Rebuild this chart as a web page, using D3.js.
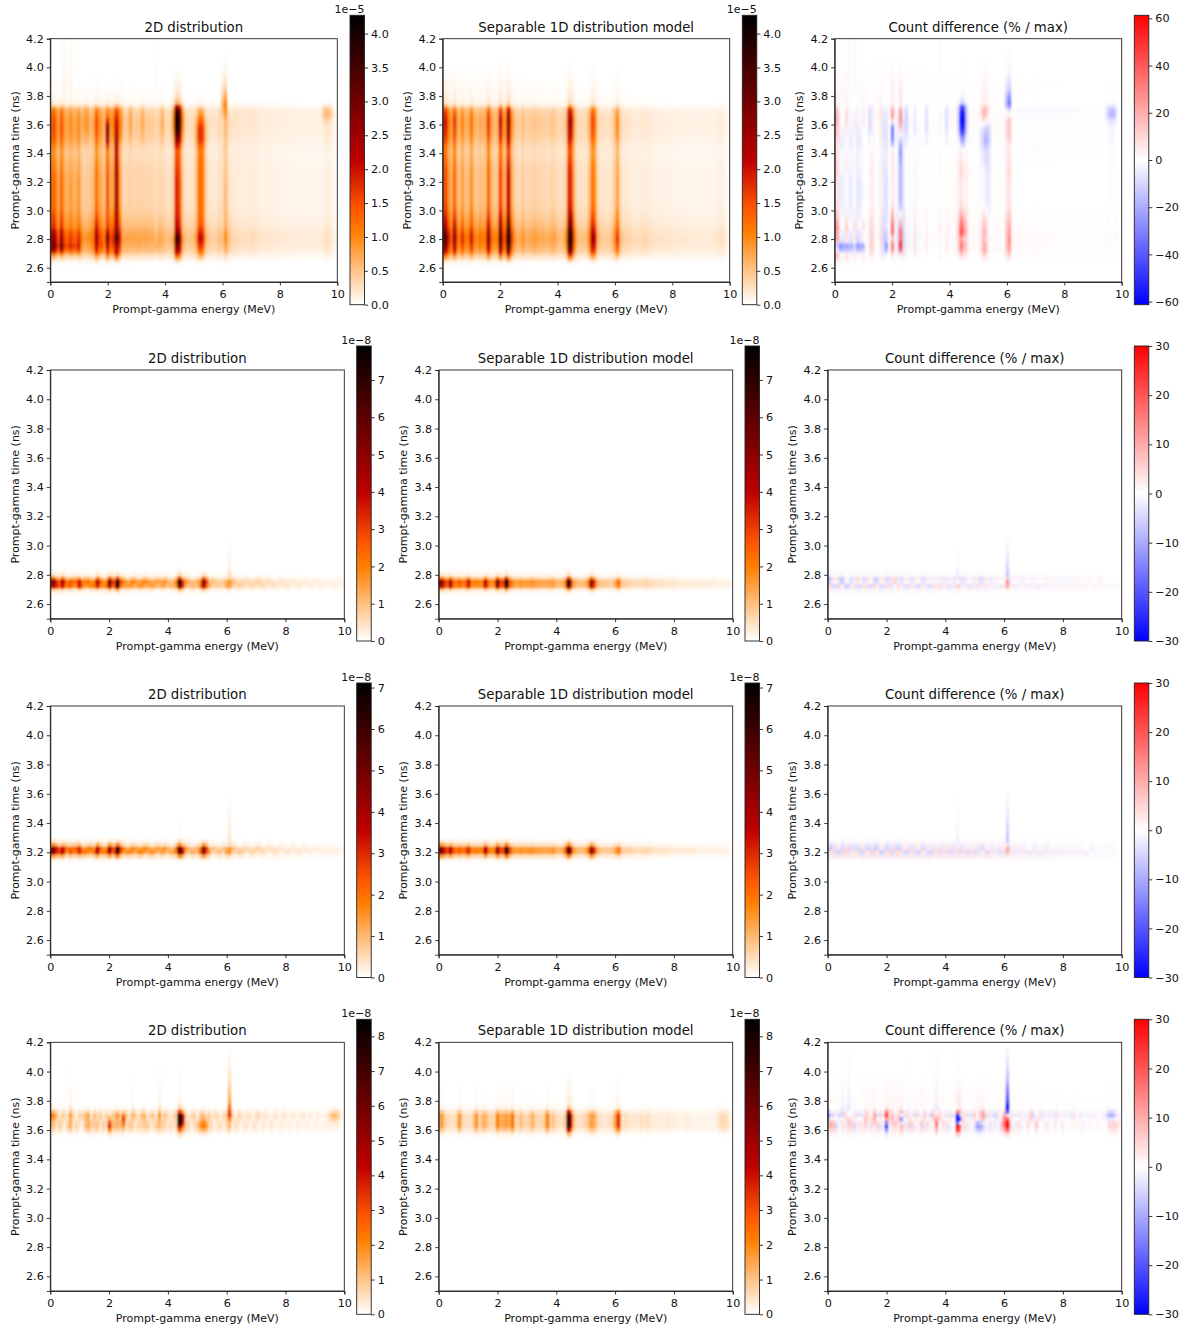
<!DOCTYPE html>
<html>
<head>
<meta charset="utf-8">
<script src="https://cdn.jsdelivr.net/npm/d3@7"></script>
<style>
  html, body { margin: 0; padding: 0; background: #fff; }
  text { font-family: "DejaVu Sans", sans-serif; fill: #111; }
  .axis text { font-size: 11.2px; }
  .axis path, .axis line { stroke: #222; stroke-width: 0.9; }
  .label { font-size: 11px; text-anchor: middle; }
  .title { font-size: 13.3px; text-anchor: middle; }
  .offset { font-size: 11px; text-anchor: end; }
</style>
</head>
<body>
<svg id="chart" width="1190" height="1331"></svg>
<script>
// tick labels
var energyTicks = [0, 2, 4, 6, 8, 10];
var timeTicks = [2.6, 2.8, 3.0, 3.2, 3.4, 3.6, 3.8, 4.0, 4.2];
var barTicks1 = [0, 0.5, 1, 1.5, 2, 2.5, 3, 3.5, 4];
var barTicks2 = [0, 1, 2, 3, 4, 5, 6, 7];
var barTicks3 = [0, 1, 2, 3, 4, 5, 6, 7];
var barTicks4 = [0, 1, 2, 3, 4, 5, 6, 7, 8];
var diffTicks1 = [-60, -40, -20, 0, 20, 40, 60];
var diffTicks = [-30, -20, -10, 0, 10, 20, 30];

// energy bins sit at 0.0, 0.1 ... 10.0 MeV, time bins at 2.500, 2.525 ... 4.200 ns
var energyBins = d3.range(101).map(function(k) { return k / 10; });
var timeBins = d3.range(69).map(function(j) { return 2.5 + j * 0.025; });

// row 1, all 1e-6
var model1 = [2.6,3.4,2.0,1.3,2.8,1.4,1.1,1.8,1.1,1.2, 2.0,1.1,1.0,1.3,1.1,1.2,2.8,1.3,1.0,1.1, 3.5,1.5,1.6,4.6,1.7,.9,.7,.7,1.0,.7, .72,.76,.85,.76,.72,.72,.68,.68,.76,.8, .6,.56,.6,1.1,4.6,3.4,1.2,.56,.52,.52, .56,1.1,2.7,2.2,.7,.48,.44,.44,.44,.56, .9,1.7,.6,.4,.4,.36,.32,.3,.3,.3, .34,.34,.3,.26,.24,.24,.24,.22,.22,.22, .21,.2,.2,.19,.19,.19,.18,.18,.18,.18, .18,.18,.18,.18,.18,.2,.24,.26,.22,.12,.03];
var dist1 = [2.5,3.3,2.5,1.7,3.1,1.8,1.5,2.0,1.6,1.6, 2.3,1.1,.95,1.05,1.0,1.2,2.6,1.6,1.6,1.1, 3.1,1.5,1.8,3.7,2.0,.95,.75,.75,.9,.75, .75,.78,.85,.78,.74,.74,.7,.7,.76,.8, .56,.52,.56,1.0,4.5,3.6,1.1,.52,.48,.48, .52,1.0,2.3,2.1,.8,.44,.4,.4,.4,.56, .9,1.8,.55,.38,.38,.36,.32,.3,.3,.3, .34,.34,.3,.26,.24,.24,.24,.22,.22,.22, .21,.2,.2,.19,.19,.19,.18,.18,.18,.18, .18,.18,.18,.18,.18,.38,.6,.6,.38,.12,.03];
var group1 = [1,1,1,1,1,10,1,10,1,1, 1,0,7,7,0,0,0,0,1,0, 2,0,0,3,0,7,0,0,7,0, 0,0,7,0,0,0,0,10,0,7, 0,0,0,4,4,4,4,0,0,0, 0,5,5,5,5,0,0,0,0,0, 6,6,0,0,8,8,8,8,8,8, 8,8,8,8,8,8,8,8,8,8, 8,8,8,8,8,8,8,8,8,8, 8,8,8,8,8,9,9,9,9,8,8];

var timeModel1 = [0,0,0,0,0,.02,.1,.3,.55,.75,.87,.97,1,.98,.9,.8,.72,.66,.6,.56,.52,.49,.47,.46,.46,.46,.46,.46,.46,.46,.46,.45,.44,.42,.4,.38,.36,.37,.4,.45,.5,.54,.56,.58,.6,.6,.58,.54,.46,.22,.08,.06,.05,.04,.035,.03,.025,.02,.015,.012,.01,.006,.004,0,0,0,0,0,0];
var timeCont = [0,0,0,0,0,.02,.1,.3,.55,.75,.87,.97,1,.98,.9,.8,.72,.66,.6,.56,.52,.49,.47,.46,.46,.46,.46,.46,.46,.46,.46,.45,.44,.42,.4,.38,.36,.37,.4,.45,.5,.54,.56,.58,.6,.59,.56,.52,.44,.2,.06,.04,.03,.025,.02,.015,.012,.01,.008,.006,.004,.002,0,0,0,0,0,0,0];
var timeLow = [0,0,0,0,0,.01,.06,.2,.45,.8,1,.9,.85,.82,.75,.6,.55,.52,.5,.47,.44,.43,.42,.42,.42,.42,.42,.42,.42,.41,.4,.38,.36,.35,.34,.32,.3,.32,.36,.4,.44,.46,.47,.48,.48,.47,.45,.42,.36,.17,.05,.03,.02,.015,.012,.01,.008,.006,.004,.002,0,0,0,0,0,0,0,0,0];
var time20 = [0,0,0,0,0,.02,.1,.3,.5,.6,.7,.85,1,.9,.7,.58,.52,.5,.48,.47,.47,.47,.47,.47,.47,.47,.47,.47,.47,.47,.46,.45,.44,.42,.4,.38,.36,.4,.55,.72,.82,.88,.92,.93,.82,.6,.45,.38,.33,.16,.05,.03,.02,.01,0,0,0,0,0,0,0,0,0,0,0,0,0,0,0];
var time23 = [0,0,0,0,0,.02,.12,.35,.6,.65,.7,.85,1,.95,.85,.78,.74,.72,.7,.7,.7,.7,.7,.7,.7,.7,.7,.7,.7,.7,.7,.69,.68,.67,.66,.65,.64,.64,.66,.68,.7,.68,.65,.62,.6,.56,.52,.48,.42,.2,.05,.03,.02,.01,0,0,0,0,0,0,0,0,0,0,0,0,0,0,0];
var time44 = [0,0,0,0,0,.02,.09,.25,.45,.58,.66,.78,.85,.76,.62,.54,.5,.47,.45,.44,.43,.43,.42,.42,.42,.42,.42,.42,.42,.41,.4,.39,.38,.37,.36,.35,.33,.36,.45,.55,.65,.75,.85,.92,.96,.98,.96,.9,.78,.48,.15,.1,.07,.05,.04,.03,.02,.015,.01,.008,.005,0,0,0,0,0,0,0,0];
var time52 = [0,0,0,0,0,.02,.08,.25,.45,.6,.75,.85,.95,.9,.8,.72,.65,.6,.58,.56,.55,.55,.55,.55,.55,.55,.55,.55,.55,.55,.55,.55,.55,.54,.53,.52,.5,.52,.6,.7,.76,.78,.78,.76,.7,.6,.5,.4,.3,.12,.03,.02,.01,0,0,0,0,0,0,0,0,0,0,0,0,0,0,0,0];
var time61 = [0,0,0,0,0,.02,.06,.15,.28,.38,.45,.52,.55,.55,.5,.42,.38,.36,.35,.34,.34,.33,.33,.33,.33,.33,.33,.32,.32,.31,.3,.29,.28,.27,.27,.26,.26,.27,.28,.29,.3,.31,.32,.33,.34,.36,.4,.5,.58,.62,.6,.52,.42,.32,.24,.18,.13,.1,.07,.05,.04,.03,.02,.015,.01,.006,.004,0,0];
var timeLate = [0,0,0,0,0,.02,.08,.25,.45,.62,.72,.82,.88,.85,.78,.7,.62,.56,.52,.48,.46,.45,.44,.43,.43,.43,.43,.43,.43,.43,.42,.41,.4,.38,.37,.36,.35,.38,.46,.55,.62,.7,.78,.84,.86,.86,.84,.78,.7,.36,.1,.06,.05,.04,.03,.02,.015,.01,.005,0,0,0,0,0,0,0,0,0,0];
var timeHigh = [0,0,0,0,0,.02,.08,.25,.48,.66,.78,.88,.9,.88,.82,.74,.66,.6,.56,.52,.48,.47,.46,.46,.46,.46,.46,.46,.46,.46,.46,.46,.45,.44,.43,.42,.41,.42,.45,.5,.54,.57,.6,.62,.64,.66,.66,.64,.58,.28,.09,.05,.03,.02,.01,0,0,0,0,0,0,0,0,0,0,0,0,0,0];
var time97 = [0,0,0,0,0,.01,.04,.12,.24,.33,.4,.44,.45,.44,.41,.36,.31,.27,.25,.24,.23,.22,.22,.22,.22,.22,.22,.22,.22,.22,.22,.21,.21,.2,.2,.19,.18,.2,.23,.27,.3,.32,.34,.37,.42,.58,.82,1,.85,.42,.08,.02,.01,0,0,0,0,0,0,0,0,0,0,0,0,0,0,0,0];
var timeTail = [0,0,0,0,0,.01,.06,.2,.45,.75,.95,.88,.85,.82,.75,.6,.55,.52,.5,.47,.44,.43,.42,.42,.42,.42,.42,.42,.42,.41,.4,.38,.36,.35,.34,.32,.3,.32,.36,.4,.44,.46,.47,.48,.48,.48,.47,.45,.38,.2,.07,.06,.055,.05,.05,.05,.045,.04,.04,.04,.035,.035,.03,.03,.03,.03,.025,.025,.02];

// row 2, all 1e-8
var model2 = [4.2,5.8,3.6,2.8,5.0,2.6,2.2,2.8,2.2,2.5, 4.2,2.2,2.0,2.2,2.0,2.2,4.6,2.4,1.8,2.2, 6.2,3.2,3.2,8.4,3.0,2.0,1.6,1.6,2.0,1.6, 1.7,1.7,1.9,1.6,1.6,1.5,1.5,1.5,1.6,1.7, 1.2,1.2,1.2,2.2,8.0,3.8,1.6,1.2,1.1,1.1, 1.2,2.2,6.0,3.2,1.2,1.0,.9,.9,.8,.9, 1.4,2.6,1.1,.8,.8,.7,.6,.6,.6,.6, .7,.7,.6,.5,.5,.5,.5,.4,.4,.4, .4,.4,.3,.3,.3,.3,.3,.3,.3,.3, .3,.3,.3,.3,.2,.2,.2,.2,.2,.2,.1];
var upper2 = [5.0,6.9,3.0,2.3,6.0,3.6,1.8,2.5,2.9,3.0, 3.4,1.7,2.7,2.9,1.4,1.7,5.6,3.2,1.3,1.6, 7.0,4.0,2.5,7.6,3.6,2.7,1.1,1.1,2.6,2.2, 1.2,1.3,2.5,2.3,1.1,1.0,2.0,1.9,1.1,2.2, 1.7,.7,.8,2.8,8.6,3.1,2.2,1.7,.7,.7, 1.7,1.7,6.8,3.8,.8,1.4,1.3,.6,.5,1.2, 1.0,1.8,1.5,1.1,.5,.4,.9,.9,.4,.3, 1.0,.9,.4,.3,.8,.7,.3,.2,.6,.6, .2,.2,.5,.5,.1,.1,.5,.4,.1,.1, .4,.4,.1,.1,.3,.3,.1,.1,.3,.3,.1];
var lower2 = [4.0,4.9,4.3,3.4,4.1,2.1,2.9,3.4,1.7,1.9, 4.9,2.8,1.5,1.6,2.6,2.8,3.8,1.9,2.4,2.8, 5.5,2.5,3.8,8.8,2.4,1.5,2.1,2.2,1.5,1.1, 2.2,2.3,1.4,1.1,2.1,2.1,1.0,1.0,2.1,1.2, .8,1.7,1.6,1.7,7.2,4.4,1.2,.8,1.6,1.5, .8,2.7,5.4,2.7,1.6,.7,.5,1.2,1.1,.5, 1.8,1.9,.8,.5,1.1,1.0,.4,.3,.8,.9, .4,.4,.9,.7,.2,.3,.7,.6,.2,.2, .6,.6,.1,.1,.5,.5,.1,.1,.5,.4, .1,.1,.4,.4,.1,.1,.3,.3,.1,.1,.1];
var timeModel2 = [0,0,0,0,0,0,0,.03,.2,.85,.95,.42,.08,.02,0,0,0,0,0,0,0,0,0,0,0,0,0,0,0,0,0,0,0,0,0,0,0,0,0,0,0,0,0,0,0,0,0,0,0,0,0,0,0,0,0,0,0,0,0,0,0,0,0,0,0,0,0,0,0];
var timeUpper2 = [0,0,0,0,0,0,0,0,.03,.25,.55,.36,.07,.02,0,0,0,0,0,0,0,0,0,0,0,0,0,0,0,0,0,0,0,0,0,0,0,0,0,0,0,0,0,0,0,0,0,0,0,0,0,0,0,0,0,0,0,0,0,0,0,0,0,0,0,0,0,0,0];
var timeLower2 = [0,0,0,0,0,0,0,.03,.17,.6,.4,.06,.01,0,0,0,0,0,0,0,0,0,0,0,0,0,0,0,0,0,0,0,0,0,0,0,0,0,0,0,0,0,0,0,0,0,0,0,0,0,0,0,0,0,0,0,0,0,0,0,0,0,0,0,0,0,0,0,0];
var tailTime2 = [0,0,0,0,0,0,0,0,0,0,0,0,.3,.22,.18,.15,.12,.1,.08,.06,.05,.03,.02,0,0,0,0,0,0,0,0,0,0,0,0,0,0,0,0,0,0,0,0,0,0,0,0,0,0,0,0,0,0,0,0,0,0,0,0,0,0,0,0,0,0,0,0,0,0];
var tailBins2 = [44, 61];
var tailAmps2 = [0.3, 1.5];

// row 3, all 1e-8
var model3 = [4.2,5.4,3.6,2.8,4.2,2.6,2.0,2.6,2.0,2.4, 3.4,1.9,1.8,2.0,1.8,2.0,4.6,2.2,1.7,2.0, 5.0,2.8,2.8,7.2,3.0,1.8,1.5,1.5,1.8,1.5, 1.6,1.6,1.7,1.5,1.5,1.4,1.4,1.4,1.5,1.6, 1.2,1.1,1.2,2.4,6.6,3.8,1.6,1.1,1.0,1.0, 1.2,2.2,5.4,3.0,1.2,.9,.8,.8,.8,.9, 1.3,2.2,1.0,.7,.7,.7,.6,.5,.5,.5, .6,.6,.5,.4,.4,.4,.4,.4,.4,.3, .3,.3,.3,.3,.3,.3,.3,.3,.2,.2, .2,.2,.2,.2,.2,.2,.2,.2,.2,.1,.1];
var upper3 = [3.5,6.3,4.2,2.2,3.7,3.4,2.5,1.9,2.6,3.0, 4.0,1.3,1.3,2.6,2.5,1.4,5.4,2.9,1.2,1.5, 5.8,3.4,2.2,7.8,3.8,2.3,1.0,1.0,2.4,2.0, 1.1,1.2,2.3,2.1,1.0,.9,1.9,1.8,1.0,2.1, 1.6,.6,.7,2.9,7.0,3.2,2.1,1.5,.6,.6, 1.6,1.7,5.9,3.5,.8,1.3,1.2,.5,.4,1.3, .9,1.5,1.4,1.0,.4,.4,.9,.8,.3,.3, .9,.9,.3,.2,.7,.7,.3,.2,.6,.5, .1,.1,.5,.5,.1,.1,.5,.4,.1,.1, .4,.3,.1,.1,.3,.3,.1,.1,.3,.1,.1];
var lower3 = [4.8,4.8,3.0,3.4,4.8,1.9,1.4,3.2,1.5,1.9, 2.9,2.5,2.4,1.5,1.3,2.6,3.9,1.7,2.3,2.6, 4.4,2.2,3.4,6.6,2.4,1.3,2.0,2.1,1.3,1.0, 2.1,2.2,1.2,1.0,2.0,2.0,.9,.9,2.0,1.1, .7,1.6,1.7,1.9,6.2,4.4,1.1,.6,1.5,1.4, .7,2.7,5.0,2.6,1.7,.4,.4,1.1,1.2,.4, 1.7,1.8,.6,.4,1.0,1.0,.3,.2,.8,.8, .3,.3,.8,.6,.1,.1,.6,.6,.1,.1, .5,.5,.1,.1,.5,.5,.1,.1,.4,.3, .1,.1,.3,.3,.1,.1,.3,.3,.1,.1,.1];
var timeModel3 = [0,0,0,0,0,0,0,0,0,0,0,0,0,0,0,0,0,0,0,0,0,0,0,0,0,0,.06,.3,.92,.92,.28,.06,0,0,0,0,0,0,0,0,0,0,0,0,0,0,0,0,0,0,0,0,0,0,0,0,0,0,0,0,0,0,0,0,0,0,0,0,0];
var timeUpper3 = [0,0,0,0,0,0,0,0,0,0,0,0,0,0,0,0,0,0,0,0,0,0,0,0,0,0,0,.04,.27,.62,.24,.06,0,0,0,0,0,0,0,0,0,0,0,0,0,0,0,0,0,0,0,0,0,0,0,0,0,0,0,0,0,0,0,0,0,0,0,0,0];
var timeLower3 = [0,0,0,0,0,0,0,0,0,0,0,0,0,0,0,0,0,0,0,0,0,0,0,0,0,0,.06,.26,.65,.3,.04,0,0,0,0,0,0,0,0,0,0,0,0,0,0,0,0,0,0,0,0,0,0,0,0,0,0,0,0,0,0,0,0,0,0,0,0,0,0];
var tailTime3 = [0,0,0,0,0,0,0,0,0,0,0,0,0,0,0,0,0,0,0,0,0,0,0,0,0,0,0,0,0,0,0,.25,.22,.2,.18,.16,.14,.12,.1,.08,.07,.05,.04,.03,.02,0,0,0,0,0,0,0,0,0,0,0,0,0,0,0,0,0,0,0,0,0,0,0,0];
var tailBins3 = [44, 61];
var tailAmps3 = [0.3, 1.5];

// row 4, all 1e-8
var model4 = [1.2,1.9,1.0,.6,.6,.5,.7,2.0,.7,.5, .6,.5,1.1,2.0,.7,1.3,1.4,.8,.7,.7, 2.4,1.4,1.6,1.8,1.4,2.6,.8,.7,1.4,.7, .7,.9,1.4,.8,.7,.7,.9,2.4,.8,1.1, .6,.5,.5,1.0,8.5,4.5,1.2,.5,.5,.6, .7,1.1,1.8,1.5,.7,.5,.4,.4,.5,.7, 1.8,3.8,.8,.5,.6,.4,.4,.4,.4,.6, .4,.6,.4,.3,.3,.3,.3,.3,.4,.3, .3,.3,.2,.2,.3,.3,.2,.2,.2,.2, .2,.2,.2,.2,.2,.4,.6,.7,.6,.3,.1];
var upper4 = [2.4,2.2,1.2,.4,.9,.7,.3,1.6,.7,.2, .8,.7,1.2,1.5,.3,1.2,.5,1.0,.3,.9, .4,.9,1.0,1.8,.9,1.4,1.0,.3,1.2,.9, .3,1.1,1.4,.3,.8,1.0,.3,1.8,.3,1.0, .8,.2,.7,1.1,5.5,3.0,.9,.2,.7,.8, .2,.9,1.1,.5,.9,.2,.6,.7,.2,.7, .9,1.8,.9,.2,.7,.6,.2,.5,.5,.1, .7,.6,.1,.5,.4,.1,.4,.5,.1,.4, .4,.1,.3,.4,.1,.3,.4,.1,.3,.3, .1,.3,.2,.1,.3,.7,1.2,1.3,.9,.2,.0];
var lower4 = [.9,1.1,.4,.9,.5,.2,.8,1.5,.3,.8, .4,.2,1.1,1.5,.8,.9,1.1,.4,.9,.5, 3.8,1.2,1.2,1.3,1.1,1.6,.5,.9,.9,.3, .8,.7,.9,1.0,.4,.5,.9,1.2,.8,.8, .3,.7,.4,.9,5.0,2.6,.9,.7,.3,.6, .9,1.8,2.4,1.8,.6,.7,.2,.5,.6,.2, .6,1.3,.2,.6,.4,.1,.5,.4,.1,.5, .4,.1,.4,.3,.1,.4,.3,.1,.3,.3, .1,.3,.2,.1,.3,.2,.1,.3,.2,.1, .2,.2,.1,.2,.2,.3,.2,.3,.2,.1,.0];
var timeModel4 = [0,0,0,0,0,0,0,0,0,0,0,0,0,0,0,0,0,0,0,0,0,0,0,0,0,0,0,0,0,0,0,0,0,0,0,0,0,0,0,0,0,0,.04,.15,.55,.92,.95,.93,.95,.55,.12,.06,.04,.035,.03,.025,.02,.015,.01,.008,.005,0,0,0,0,0,0,0,0];
var timeUpper4 = [0,0,0,0,0,0,0,0,0,0,0,0,0,0,0,0,0,0,0,0,0,0,0,0,0,0,0,0,0,0,0,0,0,0,0,0,0,0,0,0,0,0,0,0,0,0,.1,.6,1,.55,.1,.03,0,0,0,0,0,0,0,0,0,0,0,0,0,0,0,0,0];
var timeLower4 = [0,0,0,0,0,0,0,0,0,0,0,0,0,0,0,0,0,0,0,0,0,0,0,0,0,0,0,0,0,0,0,0,0,0,0,0,0,0,0,0,0,0,.04,.15,.6,1,.85,.3,.05,0,0,0,0,0,0,0,0,0,0,0,0,0,0,0,0,0,0,0,0];
var midTime4 = [0,0,0,0,0,0,0,0,0,0,0,0,0,0,0,0,0,0,0,0,0,0,0,0,0,0,0,0,0,0,0,0,0,0,0,0,0,0,0,0,0,0,0,0,0,.1,.6,1,.5,.05,0,0,0,0,0,0,0,0,0,0,0,0,0,0,0,0,0,0,0];
var midBins4 = [25, 44, 45];
var midAmps4 = [2.0, 7.5, 3.0];
var tailTime4 = [0,0,0,0,0,0,0,0,0,0,0,0,0,0,0,0,0,0,0,0,0,0,0,0,0,0,0,0,0,0,0,0,0,0,0,0,0,0,0,0,0,0,0,0,0,0,0,.2,.45,.6,.65,.5,.4,.35,.3,.28,.22,.18,.14,.12,.1,.08,.06,.05,.04,.03,.02,.01,0];
var tailBins4 = [5, 7, 28, 37, 44, 61];
var tailAmps4 = [0.25, 0.5, 0.25, 0.5, 0.5, 4.0];

var rowMax = [4.27, 7.91, 7.11, 8.49];
var diffMax = [61.3, 30, 30, 30];
var diffGain = [1.6, 1.5, 1.5, 1.3];
var exponents = ["1e\u22125", "1e\u22128", "1e\u22128", "1e\u22128"];
var panelTitles = ["2D distribution", "Separable 1D distribution model", "Count difference (% / max)"];

function sparse(bins, amps) {
  var out = energyBins.map(function() { return 0; });
  bins.forEach(function(b, i) { out[b] = amps[i]; });
  return out;
}

// row 1 is grouped: each energy bin follows one of the time shapes
var shapes1 = [timeCont, timeLow, time20, time23, time44, time52, time61, timeLate, timeHigh, time97, timeTail];
var layers1 = shapes1.map(function(shape, g) {
  return {amps: dist1.map(function(v, k) { return group1[k] == g ? v : 0; }), time: shape};
});

var rows = [
  {model: {amps: model1, time: timeModel1}, layers: layers1, bars: barTicks1, diffBars: diffTicks1, blur: "1.2 1.5"},
  {model: {amps: model2, time: timeModel2}, layers: [
    {amps: upper2, time: timeUpper2}, {amps: lower2, time: timeLower2},
    {amps: sparse(tailBins2, tailAmps2), time: tailTime2}], bars: barTicks2, diffBars: diffTicks, blur: "1 1.1"},
  {model: {amps: model3, time: timeModel3}, layers: [
    {amps: upper3, time: timeUpper3}, {amps: lower3, time: timeLower3},
    {amps: sparse(tailBins3, tailAmps3), time: tailTime3}], bars: barTicks3, diffBars: diffTicks, blur: "1 1.1"},
  {model: {amps: model4, time: timeModel4}, layers: [
    {amps: upper4, time: timeUpper4}, {amps: lower4, time: timeLower4},
    {amps: sparse(midBins4, midAmps4), time: midTime4},
    {amps: sparse(tailBins4, tailAmps4), time: tailTime4}], bars: barTicks4, diffBars: diffTicks, blur: "1 1.1"}
];

// layout in page pixels
var lefts = [[50.3, 442.7, 834.7], [50.3, 438.7, 827.7], [50.3, 438.7, 827.7], [50.3, 438.7, 827.7]];
var barLefts = [[350, 742.3, 1134.3], [356.7, 745, 1134.3], [356.7, 745, 1134.3], [356.7, 745, 1134.3]];
var tops = [38.7, 370, 706, 1042.3];
var barTops = [15.3, 346, 683, 1019.3];
var widths = [287, 294, 294, 294];
var heights = [243.3, 248.7, 248.7, 248.7];
var barHeights = [289.4, 295, 294.5, 295];
var barWidth = 14.5;

// gist_heat_r and bwr
function heatColor(vmax) {
  return d3.scaleLinear()
    .domain([0, vmax / 4, vmax / 3, vmax / 2, vmax])
    .range(["#ffffff", "#ff8000", "#ff5500", "#bf0000", "#000000"])
    .clamp(true);
}
function bwrColor(vmax) {
  return d3.scaleLinear()
    .domain([-vmax, 0, vmax])
    .range(["#0000ff", "#ffffff", "#ff0000"])
    .clamp(true);
}

function layerValue(layer, k, j) { return layer.amps[k] * layer.time[j]; }

function cells(row, r, col) {
  var out = [];
  energyBins.forEach(function(e, k) {
    timeBins.forEach(function(t, j) {
      var m = layerValue(row.model, k, j);
      var d = d3.sum(row.layers, function(l) { return layerValue(l, k, j); });
      var v = col == 0 ? d : col == 1 ? m : (m - d) * diffGain[r] * 100 / rowMax[r];
      var limit = col == 2 ? diffMax[r] : rowMax[r];
      if (Math.abs(v) > limit * 0.004) out.push({e: e, t: t, v: v});
    });
  });
  return out;
}

var svg = d3.select("#chart");
var defs = svg.append("defs");

rows.forEach(function(row, r) {
  defs.append("filter")
      .attr("id", "soft" + r)
      .attr("filterUnits", "userSpaceOnUse")
      .attr("x", 0).attr("y", 0).attr("width", 1190).attr("height", 1331)
      .attr("color-interpolation-filters", "sRGB")
    .append("feGaussianBlur")
      .attr("stdDeviation", row.blur);

  panelTitles.forEach(function(title, col) {
    var id = r + "_" + col;
    var vmax = col == 2 ? diffMax[r] : rowMax[r];
    var color = col == 2 ? bwrColor(vmax) : heatColor(vmax);

    var g = svg.append("g")
        .attr("transform", "translate(" + lefts[r][col] + "," + tops[r] + ")");

    var x = d3.scaleLinear().domain([0, 10]).range([0, widths[r]]);
    var y = d3.scaleLinear().domain([2.5, 4.2]).range([heights[r], 0]);

    defs.append("clipPath").attr("id", "clip" + id)
      .append("rect").attr("width", widths[r]).attr("height", heights[r]);

    g.append("g").attr("clip-path", "url(#clip" + id + ")")
      .append("g").attr("filter", "url(#soft" + r + ")")
      .selectAll("rect")
      .data(cells(row, r, col))
      .enter().append("rect")
        .attr("shape-rendering", "crispEdges")
        .attr("x", function(d) { return x(d.e == 0 ? -0.4 : d.e - 0.05); })
        .attr("width", function(d) { return x(d.e == 0 ? 0.45 : 0.1); })
        .attr("y", function(d) { return y(d.t + 0.0125); })
        .attr("height", function(d) { return y(d.t - 0.0125) - y(d.t + 0.0125); })
        .attr("fill", function(d) { return color(d.v); });

    g.append("g").attr("class", "axis")
        .attr("transform", "translate(0," + heights[r] + ")")
        .call(d3.axisBottom(x).tickValues(energyTicks).tickFormat(d3.format("d")).tickSize(3.5).tickPadding(5));
    g.append("g").attr("class", "axis")
        .call(d3.axisLeft(y).tickValues(timeTicks).tickFormat(d3.format(".1f")).tickSize(3.5).tickPadding(3));
    g.append("rect")
        .attr("width", widths[r]).attr("height", heights[r])
        .attr("fill", "none").attr("stroke", "#222").attr("stroke-width", 0.9);

    g.append("text").attr("class", "title")
        .attr("x", widths[r] / 2).attr("y", -7).text(title);
    g.append("text").attr("class", "label")
        .attr("x", widths[r] / 2).attr("y", heights[r] + 31.5).text("Prompt-gamma energy (MeV)");
    g.append("text").attr("class", "label")
        .attr("transform", "translate(-31.5," + heights[r] / 2 + ") rotate(-90)")
        .text("Prompt-gamma time (ns)");

    // colorbar
    var gradId = "grad" + id;
    var grad = defs.append("linearGradient").attr("id", gradId)
        .attr("x1", 0).attr("x2", 0).attr("y1", 1).attr("y2", 0);
    d3.range(25).forEach(function(i) {
      var f = i / 24;
      grad.append("stop")
          .attr("offset", f)
          .attr("stop-color", color(col == 2 ? -vmax + 2 * vmax * f : vmax * f));
    });
    var bar = svg.append("g")
        .attr("transform", "translate(" + barLefts[r][col] + "," + barTops[r] + ")");
    bar.append("rect")
        .attr("width", barWidth).attr("height", barHeights[r])
        .attr("fill", "url(#" + gradId + ")");
    var by = d3.scaleLinear()
        .domain(col == 2 ? [-vmax, vmax] : [0, vmax])
        .range([barHeights[r], 0]);
    var barFormat = col == 2 ? d3.format("d") : r == 0 ? d3.format(".1f") : d3.format("d");
    bar.append("g").attr("class", "axis")
        .attr("transform", "translate(" + barWidth + ",0)")
        .call(d3.axisRight(by).tickValues(col == 2 ? row.diffBars : row.bars).tickFormat(barFormat).tickSize(3.5).tickPadding(3))
        .select(".domain").remove();
    bar.append("rect")
        .attr("width", barWidth).attr("height", barHeights[r])
        .attr("fill", "none").attr("stroke", "#222").attr("stroke-width", 0.9);
    if (col < 2) {
      bar.append("text").attr("class", "offset")
          .attr("x", barWidth).attr("y", -2.5).text(exponents[r]);
    }
  });
});
</script>
</body>
</html>
